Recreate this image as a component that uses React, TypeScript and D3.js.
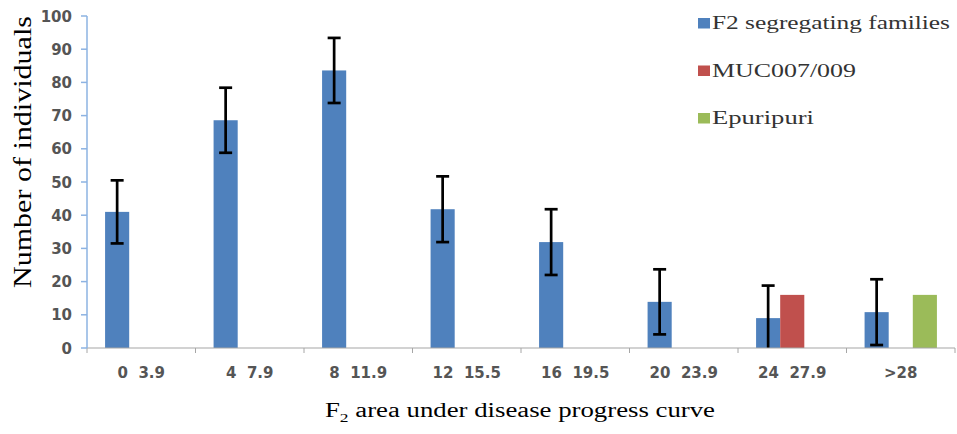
import React from 'react';
import * as d3 from 'd3';

const categories = ['0  3.9', '4  7.9', '8  11.9', '12  15.5', '16  19.5', '20  23.9', '24  27.9', '>28'];
const seriesNames = ['F2 segregating families', 'MUC007/009', 'Epuripuri'];
const seriesColors = ['#4F81BD', '#C0504D', '#9BBB59'];
// F2 families with error
const f2Values = [41, 68.6, 83.6, 41.8, 31.9, 13.9, 9, 10.8];
const f2Errors = [9.5, 9.8, 9.8, 9.9, 9.9, 9.8, 9.8, 9.9];
const mucValues = [null, null, null, null, null, null, 16, null];
const epuValues = [null, null, null, null, null, null, null, 16];
const yTicks = [0, 10, 20, 30, 40, 50, 60, 70, 80, 90, 100];
const legendWidths = [238, 144, 102];

const W = 957;
const H = 434;

export default function App() {
  const x = d3.scaleBand<string>().domain(categories).range([87, 955]);
  const bw = x.bandwidth();
  const barW = bw / 4.5;
  const xs = d3.scaleBand<string>().domain(seriesNames).range([barW * 0.75, barW * 3.75]);
  const y = d3.scaleLinear().domain([0, 100]).range([348, 16]);

  const allSeries = [f2Values, mucValues, epuValues];

  return (
    <svg width={W} height={H} style={{ position: 'absolute', left: 0, top: 0, background: '#fff' }}>
      <defs>
        <clipPath id="plot">
          <rect x={87} y={0} width={870} height={348} />
        </clipPath>
      </defs>
      {/* bars */}
      {allSeries.map((vals, si) =>
        vals.map((v, i) =>
          v == null ? null : (
            <rect
              key={`${si}-${i}`}
              x={(x(categories[i]) ?? 0) + (xs(seriesNames[si]) ?? 0)}
              y={y(v)}
              width={xs.bandwidth()}
              height={y(0) - y(v)}
              fill={seriesColors[si]}
            />
          )
        )
      )}
      {/* error bars */}
      <g clipPath="url(#plot)" stroke="#000" strokeWidth={2.7}>
        {f2Values.map((v, i) => {
          const cx = (x(categories[i]) ?? 0) + (xs(seriesNames[0]) ?? 0) + xs.bandwidth() / 2;
          const hi = y(v + f2Errors[i]);
          const lo = y(v - f2Errors[i]);
          return (
            <g key={i}>
              <line x1={cx} x2={cx} y1={hi} y2={lo} />
              <line x1={cx - 6.5} x2={cx + 6.5} y1={hi} y2={hi} />
              <line x1={cx - 6.5} x2={cx + 6.5} y1={lo} y2={lo} />
            </g>
          );
        })}
      </g>
      {/* x axis */}
      <line x1={87} x2={955} y1={348} y2={348} stroke="#A6A6A6" strokeWidth={1.2} />
      {categories.map((c) => (
        <line key={c} x1={x(c)} x2={x(c)} y1={348} y2={353} stroke="#A6A6A6" />
      ))}
      <line x1={955} x2={955} y1={348} y2={353} stroke="#A6A6A6" />
      {categories.map((c) => (
        <text
          key={c}
          x={(x(c) ?? 0) + bw / 2}
          y={378}
          textAnchor="middle"
          fontFamily="DejaVu Sans"
          fontWeight="bold"
          fontSize={15}
          fill="#555"
          style={{ whiteSpace: 'pre' }}
        >
          {c}
        </text>
      ))}
      {/* y axis */}
      <line x1={87} x2={87} y1={16} y2={348} stroke="#8DB3E2" strokeWidth={1.5} />
      {yTicks.map((t) => (
        <g key={t}>
          <line x1={81} x2={87} y1={y(t)} y2={y(t)} stroke="#8DB3E2" strokeWidth={1.5} />
          <text
            x={72}
            y={y(t) + 5.5}
            textAnchor="end"
            fontFamily="DejaVu Sans"
            fontWeight="bold"
            fontSize={15}
            fill="#555"
          >
            {t}
          </text>
        </g>
      ))}
      {/* axis titles */}
      <text
        transform="translate(31,152) rotate(-90)"
        textAnchor="middle"
        fontFamily="Liberation Serif"
        fontSize={25}
        fill="#000"
        textLength={272}
        lengthAdjust="spacingAndGlyphs"
      >
        Number of individuals
      </text>
      <text
        x={325}
        y={417}
        fontFamily="Liberation Serif"
        fontSize={20}
        fill="#000"
        textLength={390}
        lengthAdjust="spacingAndGlyphs"
      >
        F<tspan fontSize={13} dy={5}>2</tspan>
        <tspan dy={-5}> area under disease progress curve</tspan>
      </text>
      {/* legend */}
      {seriesNames.map((s, i) => (
        <g key={s} transform={`translate(698,${18 + i * 47.5})`}>
          <rect x={0} y={0} width={12} height={10.5} fill={seriesColors[i]} />
          <text
            x={14}
            y={11}
            fontFamily="Liberation Serif"
            fontSize={19}
            fill="#333"
            textLength={legendWidths[i]}
            lengthAdjust="spacingAndGlyphs"
          >
            {s}
          </text>
        </g>
      ))}
    </svg>
  );
}
